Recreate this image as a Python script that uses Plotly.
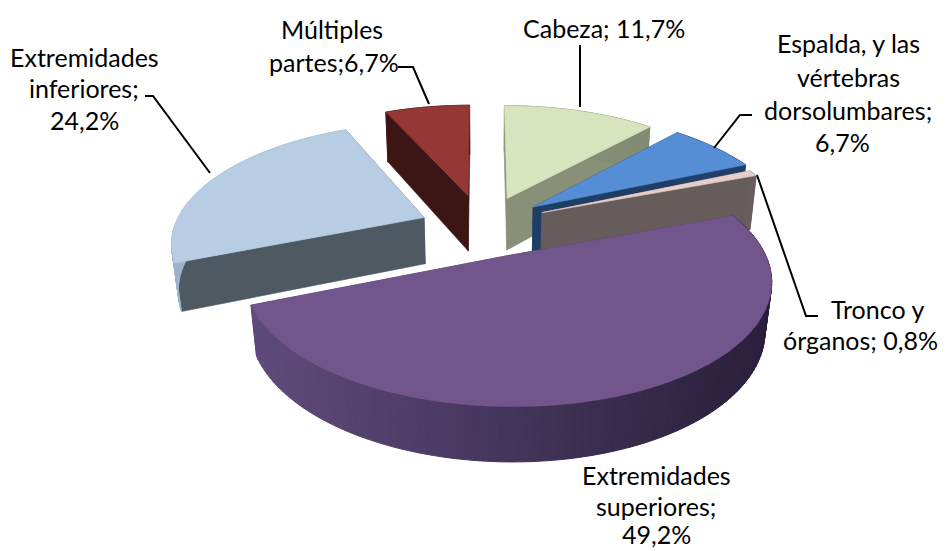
import math
import plotly.graph_objects as go

categories = ["Cabeza", "Espalda, y las vértebras dorsolumbares", "Tronco y órganos",
              "Extremidades superiores", "Extremidades inferiores", "Múltiples partes"]
values = [11.7, 6.7, 0.8, 49.2, 24.2, 6.7]
explode = [0.2, 0.2, 0.2, 0.3, 0.25, 0.2]
radius = [1.03, 1.05, 1.02, 1.0, 1.02, 1.0]
squash = [1.0, 1.0, 1.0, 0.96, 1.0, 1.0]
height = [0.25, 0.25, 0.27, 0.22, 0.22, 0.27]
nudge = [(4, 5), (8, 6), (11, 7), (-7, 8), (-6, 14), (-8, 3)]
top_colors = ["#D7E4BD", "#558ED5", "#E6CFCB", "#71558B", "#B7CDE3", "#953735"]
wall_colors = ["#8A9078", "#1F3E66", "#665C5B", "#4A3A5E", "#4E5962", "#3C1615"]
side_left = ["#A0A88C", "#2A4F80", "#8A7C7A", "#604C7C", "#9DB4CF", "#3C1615"]
side_right = ["#7A806A", "#1F3E66", "#665C5B", "#2A1F3C", "#8CA3BE", "#3C1615"]
draw_order = [5, 0, 1, 2, 4, 3]

label_lines = [
    ["Cabeza; 11,7%"],
    ["Espalda, y las", "vértebras", "dorsolumbares;", "6,7%"],
    ["Tronco y", "órganos; 0,8%"],
    ["Extremidades", "superiores;", "49,2%"],
    ["Extremidades", "inferiores;", "24,2%"],
    ["Múltiples", "partes;6,7%"],
]
label_pos = [
    [(604, 28)],
    [(848, 43), (848, 77), (848, 110), (842, 142)],
    [(877, 309), (860, 340)],
    [(656, 475), (656, 506), (656, 534)],
    [(84, 57), (84, 88), (84, 120)],
    [(332, 29), (334, 62)],
]
leaders = [
    [(580, 45), (580, 107)],
    [(752, 115), (740, 115), (714, 148)],
    [(818, 316), (806, 316), (757, 175)],
    [],
    [(145, 96), (153, 96), (210, 173)],
    [(398, 67), (413, 67), (429, 104)],
]

# camera
ELEV = math.radians(27.8)
S, C = math.sin(ELEV), math.cos(ELEV)
D, F = 4.73, 1160
CX, CY = 486, 214


def project(X, Y, Z, shift=(0, 0)):
    depth = D + Y * C - Z * S
    yc = Y * S + Z * C
    return CX + F * X / depth + shift[0], CY - F * yc / depth + shift[1]


def mix(a, b, t):
    ca = [int(a[i:i + 2], 16) for i in (1, 3, 5)]
    cb = [int(b[i:i + 2], 16) for i in (1, 3, 5)]
    return "#%02x%02x%02x" % tuple(round(p + (q - p) * t) for p, q in zip(ca, cb))


def poly(pts, color, lw=0.6):
    xs = [p[0] for p in pts] + [pts[0][0]]
    ys = [p[1] for p in pts] + [pts[0][1]]
    return go.Scatter(x=xs, y=ys, mode="lines", fill="toself", fillcolor=color,
                      line=dict(color=color, width=lw), hoverinfo="skip", showlegend=False)


total = sum(values)
starts = []
acc = 0.0
for v in values:
    starts.append(acc / total * 2 * math.pi)
    acc += v

fig = go.Figure()
for i in draw_order:
    a0 = starts[i]
    a1 = a0 + values[i] / total * 2 * math.pi
    mid = (a0 + a1) / 2
    ox, oy = explode[i] * math.sin(mid), explode[i] * math.cos(mid)
    n = max(2, int(math.degrees(a1 - a0) / 1.5))
    ang = [a0 + (a1 - a0) * k / n for k in range(n + 1)]
    r = radius[i]
    rim = [(ox + r * math.sin(a), oy + r * squash[i] * math.cos(a)) for a in ang]
    s = nudge[i]
    H = height[i]
    for (px, py) in (rim[0], rim[-1]):
        fig.add_trace(poly([project(ox, oy, 0, s), project(px, py, 0, s),
                            project(px, py, -H, s), project(ox, oy, -H, s)], wall_colors[i]))
    for k in range(n):
        p, q = rim[k], rim[k + 1]
        sx = project(p[0], p[1], 0)[0]
        t = min(1, max(0, (sx - 250) / 520))
        fig.add_trace(poly([project(p[0], p[1], 0, s), project(q[0], q[1], 0, s),
                            project(q[0], q[1], -H, s), project(p[0], p[1], -H, s)],
                           mix(side_left[i], side_right[i], t), lw=1))
    fig.add_trace(poly([project(ox, oy, 0, s)] + [project(x, y, 0, s) for x, y in rim], top_colors[i]))

for path in leaders:
    if path:
        fig.add_trace(go.Scatter(x=[p[0] for p in path], y=[p[1] for p in path], mode="lines",
                                 line=dict(color="#000000", width=2), hoverinfo="skip", showlegend=False))

for lines, pos in zip(label_lines, label_pos):
    for text, (x, y) in zip(lines, pos):
        fig.add_annotation(x=x, y=y, text=text, showarrow=False, xanchor="center", yanchor="middle",
                           font=dict(family="Lato", size=25, color="#000000"))

fig.update_layout(width=947, height=551, margin=dict(l=0, r=0, t=0, b=0),
                  paper_bgcolor="#FFFFFF", plot_bgcolor="#FFFFFF", showlegend=False,
                  xaxis=dict(range=[0, 947], visible=False, fixedrange=True),
                  yaxis=dict(range=[551, 0], visible=False, fixedrange=True))
fig.write_html("out.html", config={"displayModeBar": False},
               post_script="document.body.style.margin='0';document.body.style.overflow='hidden';")
